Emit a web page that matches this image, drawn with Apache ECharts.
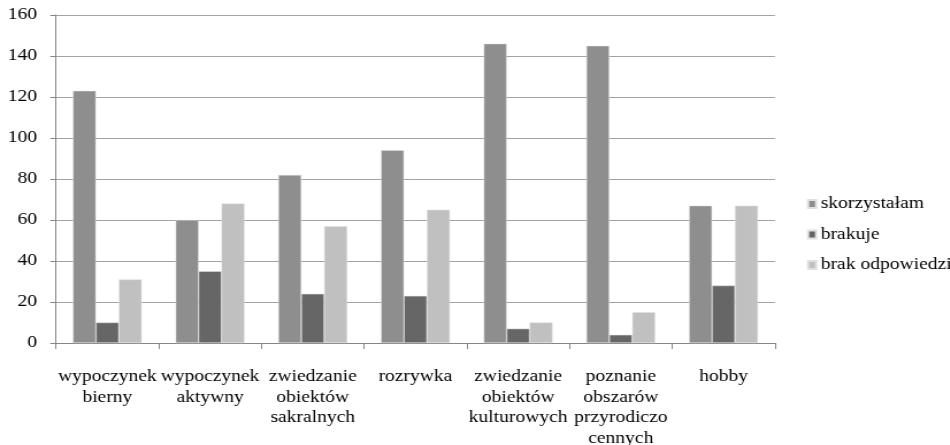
<!DOCTYPE html>
<html>
<head>
<meta charset="utf-8">
<script src="https://cdn.jsdelivr.net/npm/echarts@6/dist/echarts.min.js"></script>
<style>
  html, body { margin: 0; padding: 0; background: #fff; overflow: hidden; }
  /* the chart is laid out narrower and widened horizontally, giving the stretched serif look */
  #chart { width: 826.09px; height: 445px; transform: scaleX(1.15); transform-origin: 0 0; }
</style>
</head>
<body>
<div id="chart"></div>
<script>
const categories = [
  'wypoczynek\nbierny',
  'wypoczynek\naktywny',
  'zwiedzanie\nobiektów\nsakralnych',
  'rozrywka',
  'zwiedzanie\nobiektów\nkulturowych',
  'poznanie\nobszarów\nprzyrodiczo\ncennych',
  'hobby'
];
const seriesNames = ['skorzystałam', 'brakuje', 'brak odpowiedzi'];
const skorzystalam = [123, 60, 82, 94, 146, 145, 67];
const brakuje = [10, 35, 24, 23, 7, 4, 28];
const brakOdpowiedzi = [31, 68, 57, 65, 10, 15, 67];
const yMin = 0, yMax = 160, yStep = 20;

const colors = ['#8e8e8e', '#666666', '#c0c0c0'];
const font = 'Liberation Serif';

const chart = echarts.init(document.getElementById('chart'), null, { renderer: 'canvas' });

const values = [skorzystalam, brakuje, brakOdpowiedzi];

chart.setOption({
  animation: false,
  backgroundColor: '#ffffff',
  textStyle: { fontFamily: font, color: '#000' },
  grid: {
    left: 48.7, right: 152.2, top: 15, bottom: 102,
    containLabel: false,
    outerBoundsMode: 'none'
  },
  legend: {
    orient: 'vertical',
    left: 701.7,
    top: 195.5,
    padding: 0,
    itemWidth: 7,
    itemHeight: 8,
    itemGap: 13.5,
    icon: 'rect',
    data: seriesNames,
    textStyle: { fontFamily: font, fontSize: 17, lineHeight: 17, color: '#000', padding: [0, 0, 0, -1] }
  },
  xAxis: {
    type: 'category',
    data: categories,
    axisLine: { show: true, lineStyle: { color: '#868686', width: 1 } },
    axisTick: { show: true, length: 6, lineStyle: { color: '#868686' } },
    axisLabel: {
      interval: 0,
      margin: 23.5,
      fontFamily: font,
      fontSize: 17,
      lineHeight: 20.5,
      color: '#000',
      align: 'center'
    },
    splitLine: { show: false }
  },
  yAxis: {
    type: 'value',
    min: yMin,
    max: yMax,
    interval: yStep,
    axisLine: { show: true, lineStyle: { color: '#868686', width: 1 } },
    axisTick: { show: true, length: 5, lineStyle: { color: '#868686' } },
    axisLabel: { margin: 16.5, fontFamily: font, fontSize: 17, color: '#000' },
    splitLine: { show: true, lineStyle: { color: '#a3a3a3', width: 1 } }
  },
  series: seriesNames.map((name, i) => ({
    name,
    type: 'bar',
    data: values[i],
    barGap: '0%',
    barCategoryGap: '33%',
    itemStyle: { color: colors[i], borderColor: '#e0e0e0', borderWidth: 0.5 }
  }))
});
</script>
</body>
</html>
